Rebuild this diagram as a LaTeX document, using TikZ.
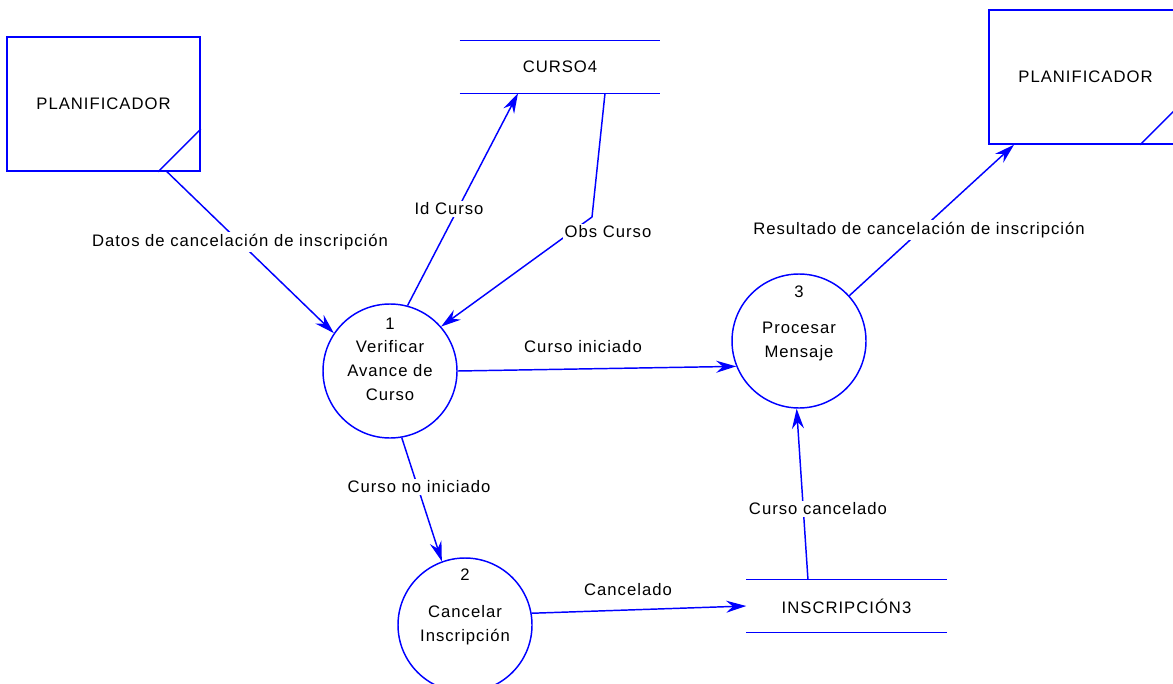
\documentclass[tikz,border=0pt]{standalone}
\usepackage{fontspec}
\setmainfont{Liberation Sans}[LetterSpace=6]
\usepackage{tikz}
\usetikzlibrary{arrows.meta, positioning, calc}
\usepackage{xcolor}
\definecolor{dfdblue}{RGB}{0,0,255}
\tikzset{
  txt/.style={font=\fontsize{12.5pt}{18pt}\selectfont, text=black},
  process/.style={circle, draw=dfdblue, line width=1.1pt, inner sep=0pt,
                  minimum size=100.5pt, align=center, txt},
  procnum/.style={inner sep=0pt, txt},
  entity/.style={rectangle, draw=dfdblue, line width=1.1pt, inner sep=0pt,
                 minimum width=144.75pt, minimum height=100.5pt, txt},
  store/.style={rectangle, inner sep=0pt, minimum width=150pt,
                minimum height=39pt, txt},
  storeline/.style={draw=dfdblue, line width=1.1pt},
  flow/.style={draw=dfdblue, line width=1.1pt,
               -{Stealth[length=15pt, width=9pt, inset=5pt]}},
  flowlabel/.style={fill=white, inner sep=1.5pt, txt},
}
\begin{document}
\begin{tikzpicture}[x=0.75pt, y=-0.75pt]
    \useasboundingbox (0,0) rectangle (1173,684);
    %% external entities (corner cut marks the duplicate)
    \node[entity] (plan1) at (103.5,104) {PLANIFICADOR};
    \node[entity] (plan2) at (1085.5,77) {PLANIFICADOR};
    \draw[storeline] ([xshift=-32pt]plan1.south east) -- ([yshift=32pt]plan1.south east);
    \draw[storeline] ([xshift=-32pt]plan2.south east) -- ([yshift=32pt]plan2.south east);
    %% data stores: two horizontal rules
    \node[store] (curso) at (560,67) {CURSO4};
    \node[store] (ins) at (846.5,606) {INSCRIPCIÓN3};
    \draw[storeline] (curso.north west) -- (curso.north east)
                     (curso.south west) -- (curso.south east);
    \draw[storeline] (ins.north west) -- (ins.north east)
                     (ins.south west) -- (ins.south east);
    %% processes
    \node[process] (p1) at (390,371) {Verificar\\Avance de\\Curso};
    \node[procnum] (n1) at ([yshift=-15pt]p1.north) {1};
    \node[process] (p2) at (465,625) {Cancelar\\Inscripción};
    \node[procnum] (n2) at ([yshift=-13pt]p2.north) {2};
    \node[process] (p3) at (799,341) {Procesar\\Mensaje};
    \node[procnum] (n3) at ([yshift=-13.5pt]p3.north) {3};
    %% flows
    \coordinate (obsbend) at (592,217);
    \draw[flow] ([xshift=47.6pt]plan1.south) -- (p1.146);
    \draw[flow] (p1.75) -- ([xshift=-31.5pt]curso.south);
    \draw[flow] ([xshift=33.75pt]curso.south) -- (obsbend) -- (p1.41);
    \draw[flow] (p1.0) -- (p3.202);
    \draw[flow] (p1.280) -- (p2.110);
    \draw[flow] (p2.10) -- (ins.west);
    \draw[flow] ([xshift=-28.9pt]ins.north) -- (p3.268);
    \draw[flow] (p3.42) -- ([xshift=-53.6pt]plan2.south);
    %% flow labels, white fill hides the line beneath
    \node[flowlabel] (l1) at (240,242) {Datos de cancelación de inscripción};
    \node[flowlabel] (l2) at (449,209) {Id Curso};
    \node[flowlabel] (l3) at (608,232) {Obs Curso};
    \node[flowlabel] (l4) at (583,347) {Curso iniciado};
    \node[flowlabel] (l5) at (419,487) {Curso no iniciado};
    \node[flowlabel] (l6) at (628,590) {Cancelado};
    \node[flowlabel] (l7) at (818,509) {Curso cancelado};
    \node[flowlabel] (l8) at (919,230) {Resultado de cancelación de inscripción};
  \end{tikzpicture}
\end{document}
